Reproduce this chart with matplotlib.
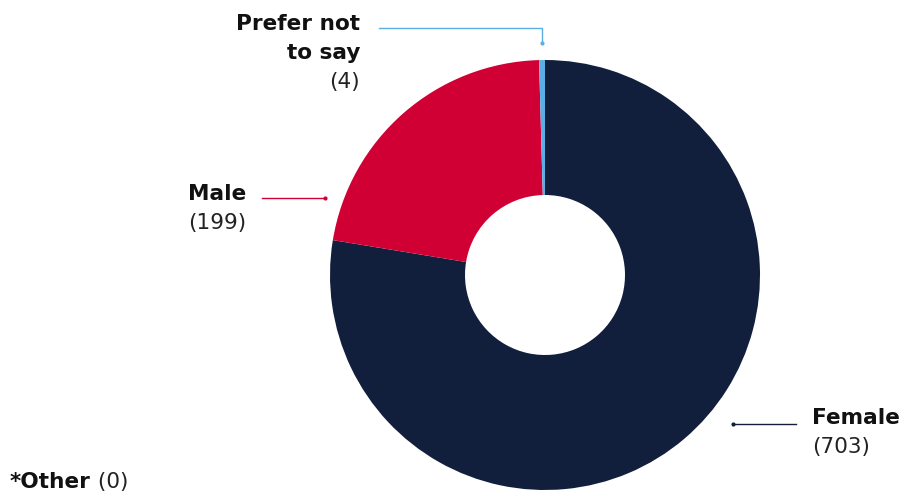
import matplotlib
matplotlib.use("Agg")
import matplotlib.pyplot as plt

# Respondents by gender
categories = ["Female", "Male", "Prefer not to say"]
counts = [703, 199, 4]
other_count = 0
colors = ["#111F3D", "#D00034", "#5BAEE3"]

W, H = 905, 495
fig = plt.figure(figsize=(W / 100, H / 100), dpi=100)
ax = fig.add_axes([0, 0, 1, 1])

# Donut in pixel-like coordinates (y measured upward)
cx, cy, r = 545, H - 275, 215
ax.pie(counts, colors=colors, startangle=90, counterclock=False,
       center=(cx, cy), radius=r,
       wedgeprops=dict(width=r - 80, linewidth=0))
ax.set_xlim(0, W)
ax.set_ylim(0, H)
ax.set_aspect("equal")
ax.axis("off")

family = ["DejaVu Sans"]
fs = 15.6
tc = "#111111"
step = 29

def label(x, y, lines, value, ha):
    for i, line in enumerate(lines):
        ax.text(x, H - y - step * i, line, ha=ha, va="baseline", fontsize=fs,
                fontweight="bold", family=family, color=tc)
    ax.text(x, H - y - step * len(lines), f"({value})", ha=ha,
            va="baseline", fontsize=fs, family=family, color="#222222")

# Prefer not to say
label(360, 30, ["Prefer not", "to say"], counts[2], "right")
ax.plot([379, 542, 542], [H - 28, H - 28, H - 43], color=colors[2], lw=1)
ax.plot([542], [H - 43], "o", ms=2, color=colors[2])

# Male
label(246, 200, ["Male"], counts[1], "right")
ax.plot([262, 325], [H - 198, H - 198], color=colors[1], lw=1)
ax.plot([325], [H - 198], "o", ms=2, color=colors[1])

# Female
label(812, 424, ["Female"], counts[0], "left")
ax.plot([733, 796], [H - 424, H - 424], color=colors[0], lw=1)
ax.plot([733], [H - 424], "o", ms=2, color=colors[0])

# Other
t = ax.text(10, H - 488, "*Other", ha="left", va="baseline", fontsize=fs,
            fontweight="bold", family=family, color=tc)
ax.annotate(f" ({other_count})", xycoords=t, xy=(1, 0), va="bottom",
            ha="left", fontsize=fs, family=family, color="#222222")

fig.savefig("out.png", dpi=100)
